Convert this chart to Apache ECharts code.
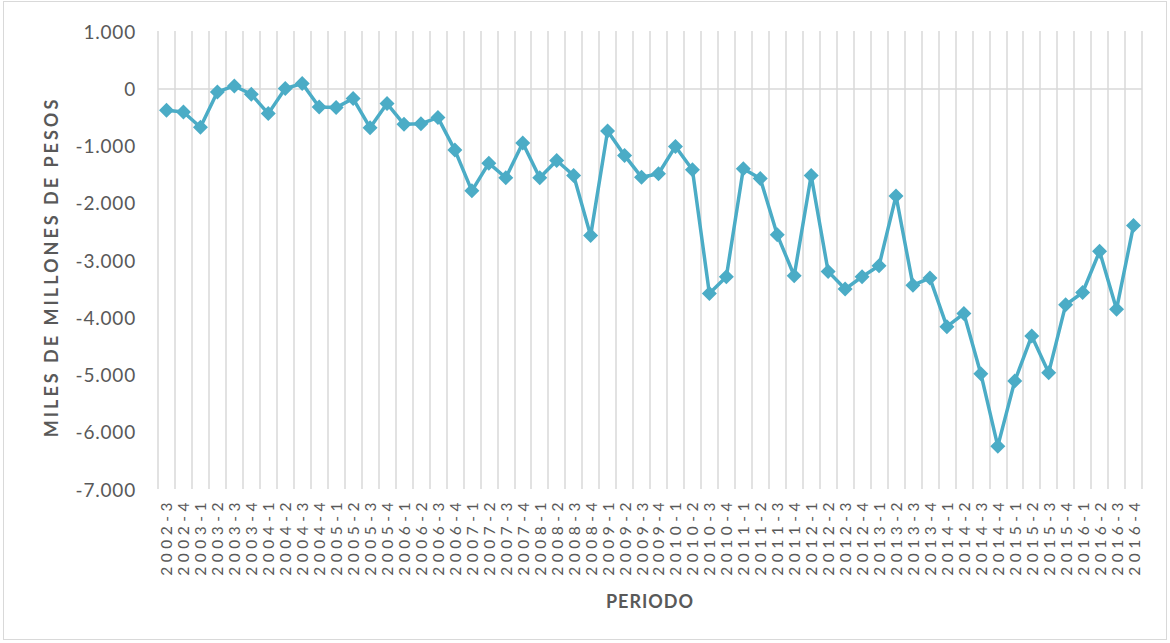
<!DOCTYPE html>
<html>
<head>
<meta charset="utf-8">
<script src="https://cdn.jsdelivr.net/npm/echarts@6/dist/echarts.min.js"></script>
<style>
  html, body { margin: 0; padding: 0; background: #ffffff; }
  #chart { position: absolute; left: 0; top: 0; width: 1170px; height: 643px; }
  #frame { position: absolute; left: 3px; top: 1px; width: 1162px; height: 637px;
           border: 1px solid #d9d9d9; pointer-events: none; }
</style>
</head>
<body>
<div id="chart"></div>
<div id="frame"></div>
<script>
// Quarterly periods (year-quarter)
const periods = [
  '2002-3','2002-4',
  '2003-1','2003-2','2003-3','2003-4',
  '2004-1','2004-2','2004-3','2004-4',
  '2005-1','2005-2','2005-3','2005-4',
  '2006-1','2006-2','2006-3','2006-4',
  '2007-1','2007-2','2007-3','2007-4',
  '2008-1','2008-2','2008-3','2008-4',
  '2009-1','2009-2','2009-3','2009-4',
  '2010-1','2010-2','2010-3','2010-4',
  '2011-1','2011-2','2011-3','2011-4',
  '2012-1','2012-2','2012-3','2012-4',
  '2013-1','2013-2','2013-3','2013-4',
  '2014-1','2014-2','2014-3','2014-4',
  '2015-1','2015-2','2015-3','2015-4',
  '2016-1','2016-2','2016-3','2016-4'
];

// Values in thousands of millions of pesos
const values = [
  -385, -415,
  -680, -65, 40, -105,
  -443, -5, 82, -327,
  -338, -180, -688, -268,
  -630, -618, -513, -1080,
  -1792, -1308, -1564, -958,
  -1564, -1261, -1524, -2574,
  -747, -1173, -1553, -1494,
  -1016, -1424, -3584, -3292,
  -1406, -1576, -2560, -3275,
  -1524, -3199, -3508, -3292,
  -3100, -1880, -3440, -3316,
  -4165, -3935, -4986, -6252,
  -5114, -4326, -4968, -3783,
  -3567, -2849, -3859, -2399
];

const yMin = -7000;
const yMax = 1000;
const yStep = 1000;
const yTitle = 'MILES DE MILLONES DE PESOS';
const xTitle = 'PERIODO';

const textColor = '#595959';
const lineColor = '#4BACC6';
const gridColor = '#d9d9d9';
const fontFamily = 'Lato, "Open Sans", sans-serif';

// 1000 -> "1.000", -2000 -> "-2.000"
function fmt(v) {
  const s = String(Math.abs(v)).replace(/\B(?=(\d{3})+(?!\d))/g, '.');
  return (v < 0 ? '-' : '') + s;
}

const chart = echarts.init(document.getElementById('chart'), null, { renderer: 'svg' });

chart.setOption({
  animation: false,
  backgroundColor: 'transparent',
  grid: { left: 158, right: 28, top: 31, bottom: 154, containLabel: false },
  xAxis: {
    type: 'category',
    data: periods,
    boundaryGap: true,
    name: xTitle,
    nameLocation: 'middle',
    nameGap: 103,
    nameTextStyle: { color: textColor, fontSize: 18, fontWeight: 'bold', fontFamily: fontFamily },
    axisLine: { show: false },
    axisTick: { show: false },
    axisLabel: {
      interval: 0,
      rotate: 90,
      margin: 9,
      color: textColor,
      fontSize: 15.5,
      fontFamily: fontFamily
    },
    splitLine: { show: true, interval: 0, lineStyle: { color: gridColor, width: 1.5 } }
  },
  yAxis: {
    type: 'value',
    min: yMin,
    max: yMax,
    interval: yStep,
    name: yTitle,
    nameLocation: 'middle',
    nameGap: 98,
    nameTextStyle: {
      color: textColor, fontSize: 18, fontWeight: 'bold', fontFamily: fontFamily,
      padding: [0, 14, 0, 0]
    },
    axisLine: { show: false },
    axisTick: { show: false },
    splitLine: { show: false },
    axisLabel: {
      margin: 22,
      color: textColor,
      fontSize: 19,
      fontFamily: fontFamily,
      formatter: fmt
    }
  },
  series: [{
    type: 'line',
    data: values,
    symbol: 'diamond',
    symbolSize: 15,
    itemStyle: { color: lineColor },
    lineStyle: { color: lineColor, width: 3.5 },
    z: 3,
    markLine: {
      silent: true,
      symbol: 'none',
      label: { show: false },
      lineStyle: { color: gridColor, width: 1.5, type: 'solid' },
      data: [{ yAxis: 0 }],
      z: 1
    }
  }]
});

// Widen the character spacing of the axis texts
document.querySelectorAll('#chart svg text').forEach(function (t) {
  const s = t.textContent;
  if (periods.indexOf(s) >= 0) {
    t.setAttribute('letter-spacing', '4.5');
  } else if (s === yTitle) {
    t.setAttribute('letter-spacing', '3');
  } else if (s === xTitle) {
    t.setAttribute('letter-spacing', '1');
  } else {
    t.setAttribute('letter-spacing', '0.8');
  }
});
</script>
</body>
</html>
